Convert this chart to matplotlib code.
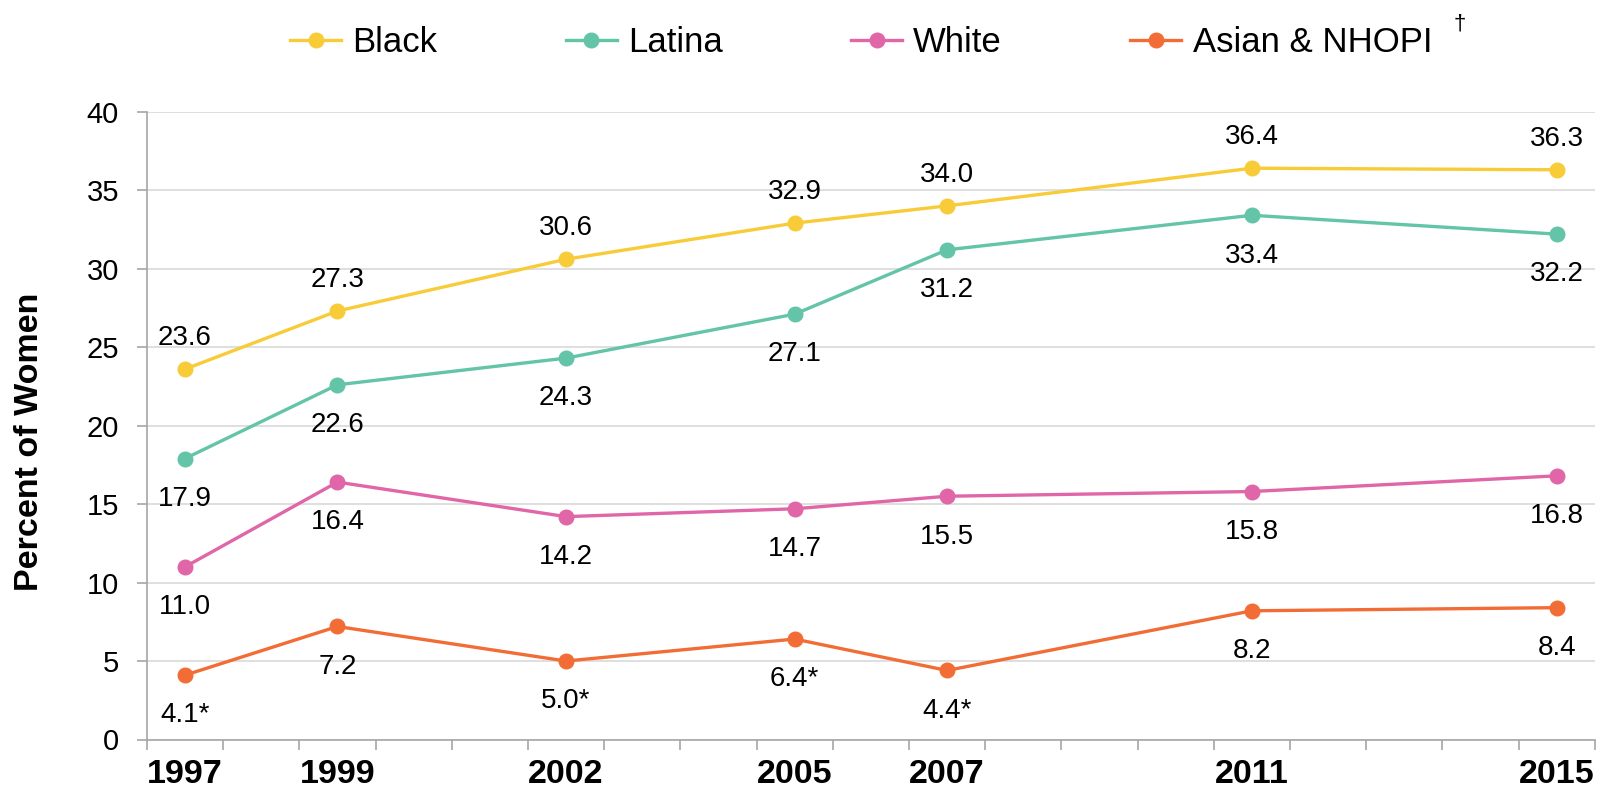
import matplotlib
matplotlib.use("Agg")
import matplotlib.pyplot as plt
import numpy as np

plt.rcParams['font.family'] = ['Liberation Sans', 'DejaVu Sans']

# survey years and share of women per group
years = [1997, 1999, 2002, 2005, 2007, 2011, 2015]
black = [23.6, 27.3, 30.6, 32.9, 34.0, 36.4, 36.3]
latina = [17.9, 22.6, 24.3, 27.1, 31.2, 33.4, 32.2]
white = [11.0, 16.4, 14.2, 14.7, 15.5, 15.8, 16.8]
asian = [4.1, 7.2, 5.0, 6.4, 4.4, 8.2, 8.4]
# estimates flagged with an asterisk
asian_flag = [True, False, True, True, True, False, False]

series = [
    ("Black", black, "#F8CB38", "above", None),
    ("Latina", latina, "#63C4A8", "below", None),
    ("White", white, "#E066A8", "below", None),
    ("Asian & NHOPI", asian, "#F26C36", "below", asian_flag),
]

fig = plt.figure(figsize=(15.99, 7.95), dpi=100)
ax = fig.add_axes([146.9 / 1599, 1 - 739.5 / 795, (1594.8 - 146.9) / 1599, (739.5 - 111.7) / 795])

for name, vals, col, pos, flags in series:
    ax.plot(years, vals, color=col, lw=2.4, marker='o', ms=10.5, label=name, zorder=3)
    for i, (x, v) in enumerate(zip(years, vals)):
        txt = f"{v:.1f}" + ("*" if flags and flags[i] else "")
        dy = 22.5 if pos == "above" else -29
        ax.annotate(txt, (x, v), xytext=(0, dy), textcoords='offset points',
                    ha='center', va='center', fontsize=20, color='black')

ax.set_xlim(1996.5, 2015.5)
ax.set_ylim(0, 40)
ax.set_yticks(np.arange(0, 41, 5))
ax.yaxis.grid(True, color='#d9d9d9', lw=1.2)
ax.set_axisbelow(True)

ax.set_xticks(years)
ax.set_xticklabels([str(y) for y in years], fontsize=24.5, fontweight='bold')
ax.set_xticks(np.arange(1996.5, 2016, 1), minor=True)
ax.tick_params(axis='x', which='major', length=0, pad=14)
ax.tick_params(axis='x', which='minor', length=7, width=1.2, color='#a6a6a6')
ax.tick_params(axis='y', length=7, width=1.2, color='#a6a6a6', labelsize=21, pad=13)

for s in ['top', 'right']:
    ax.spines[s].set_visible(False)
for s in ['left', 'bottom']:
    ax.spines[s].set_color('#a6a6a6')
    ax.spines[s].set_linewidth(1.2)

fig.text(30 / 1599, 1 - 442 / 795, "Percent of Women", rotation=90, ha='center', va='center',
         fontsize=24.5, fontweight='bold')

fig.legend(loc='center left', bbox_to_anchor=(290 / 1599, 1 - 43 / 795), ncol=4, frameon=False,
           fontsize=25, handlelength=1.47, handletextpad=0.32, columnspacing=3.7,
           borderpad=0, borderaxespad=0)
fig.text(1460 / 1599, 1 - 24 / 795, "†", ha='center', va='center', fontsize=16)

fig.savefig("out.png", dpi=100)
